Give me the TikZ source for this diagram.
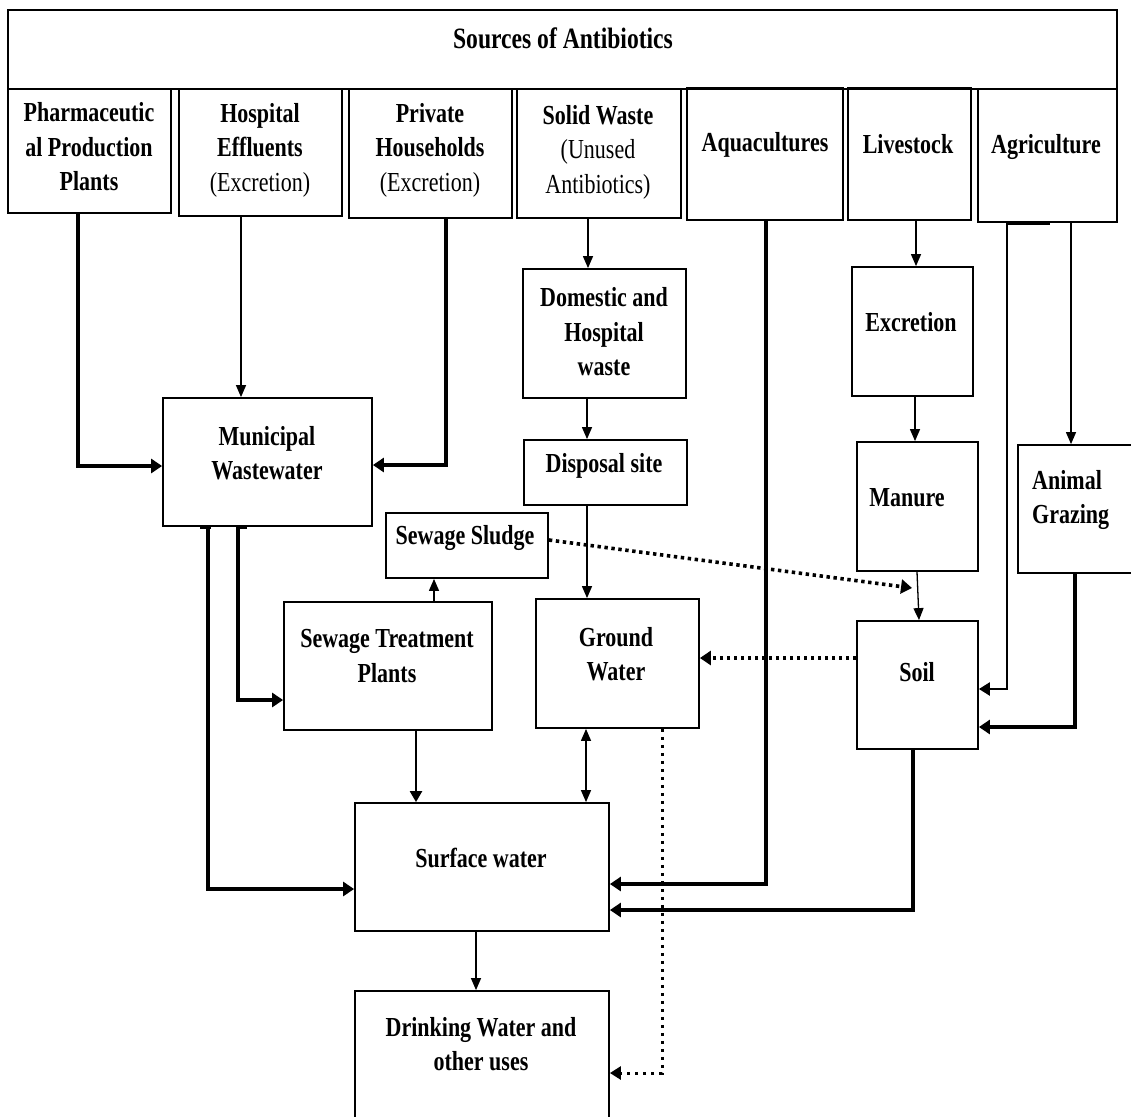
\documentclass[tikz,border=0pt]{standalone}
\usepackage{fontspec}
\setmainfont{Liberation Serif}[FakeStretch=0.80]
\usetikzlibrary{arrows.meta,fit}
\begin{document}
\begin{tikzpicture}[x=1pt,y=-1pt,
  box/.style={draw, line width=1.8pt, inner sep=0pt},
  lbl/.style={font=\fontsize{27.5}{34.5}\selectfont\bfseries, align=center, inner sep=0pt},
  thinarr/.style={line width=1.3pt, -{Triangle[length=12pt,width=10pt]}},
  thickarr/.style={line width=3.2pt, -{Triangle[length=11pt,width=14pt]}},
  midarr/.style={line width=2.3pt, -{Triangle[length=11pt,width=12pt]}},
  dotarr/.style={line width=3.6pt, dash pattern=on 3.4pt off 3.6pt, -{Triangle[length=11pt,width=14pt]}},
  dotarrb/.style={line width=3pt, dash pattern=on 3pt off 5pt, -{Triangle[length=11pt,width=13pt]}},
  stub/.style={line width=3.2pt}
]
\fill[white] (0,0) rectangle (1131,1116);
\useasboundingbox (0,0) rectangle (1131,1116);

% boxes
\node[box, fit={(8,10) (1117,89)}] (title) {};
\node[box, fit={(8,89) (171,213)}] (pharm) {};
\node[box, fit={(179,89) (342,216)}] (hosp) {};
\node[box, fit={(349,89) (512,218)}] (priv) {};
\node[box, fit={(517,89) (681,218)}] (solid) {};
\node[box, fit={(687,89) (843,220)}] (aqua) {};
\node[box, fit={(848,89) (971,220)}] (live) {};
\node[box, fit={(978,89) (1117,222)}] (agri) {};
\node[box, fit={(523,269) (686,398)}] (dom) {};
\node[box, fit={(524,440) (687,505)}] (disp) {};
\node[box, fit={(852,267) (973,396)}] (excr) {};
\node[box, fit={(857,442) (978,571)}] (man) {};
\node[box, fit={(1018,445) (1145,573)}] (graz) {};
\node[box, fit={(163,398) (372,526)}] (mun) {};
\node[box, fit={(386,513) (548,578)}] (sludge) {};
\node[box, fit={(284,602) (492,730)}] (stp) {};
\node[box, fit={(536,599) (699,728)}] (gw) {};
\node[box, fit={(857,621) (978,749)}] (soil) {};
\node[box, fit={(355,803) (609,931)}] (surf) {};
\node[box, fit={(355,991) (609,1135)}] (drink) {};

% thicker top edges
\draw[stub] (aqua.north west) -- (aqua.north east);
\draw[stub] (live.north west) -- (live.north east);

% labels
\node[lbl, font=\fontsize{29.5}{34.5}\selectfont\bfseries] (tTitle) at (563,38) {Sources of Antibiotics};
\node[lbl] (tPharm) at (89,147) {Pharmaceutic\\al Production\\Plants};
\node[lbl] (tHosp) at (260,150) {Hospital\\Effluents\\{\mdseries (Excretion)}};
\node[lbl] (tPriv) at (430,150) {Private\\Households\\{\mdseries (Excretion)}};
\node[lbl] (tSolid) at (598,152) {Solid Waste\\{\mdseries (Unused}\\{\mdseries Antibiotics)}};
\node[lbl] (tAqua) at (765,145) {Aquacultures};
\node[lbl] (tLive) at (908,144) {Livestock};
\node[lbl] (tAgri) at (1046,147) {Agriculture};
\node[lbl] (tDom) at (604,332) {Domestic and\\Hospital\\waste};
\node[lbl] (tDisp) at (604,466) {Disposal site};
\node[lbl] (tExcr) at (911,322) {Excretion};
\node[lbl] (tMan) at (907,498) {Manure};
\node[lbl, align=left, anchor=west] (tGraz) at (1032,500) {Animal\\Grazing};
\node[lbl] (tMun) at (267,453) {Municipal\\Wastewater};
\node[lbl] (tSludge) at (465,538) {Sewage Sludge};
\node[lbl] (tStp) at (387,656) {Sewage Treatment\\Plants};
\node[lbl] (tGw) at (616,654) {Ground\\Water};
\node[lbl] (tSoil) at (917,672) {Soil};
\node[lbl] (tSurf) at (481,858) {Surface water};
\node[lbl] (tDrink) at (481,1044) {Drinking Water and\\other uses};

\coordinate (slEnd) at (912,588);

% connectors
\draw[thickarr] (pharm.south -| 78,0) |- (mun.west |- 0,466);
\draw[thinarr] (hosp.south -| 241,0) -- (mun.north -| 241,0);
\draw[thickarr] (priv.south -| 446,0) |- (mun.east |- 0,465);
\draw[thinarr] (solid.south -| 588,0) -- (dom.north -| 588,0);
\draw[thinarr] (dom.south -| 587,0) -- (disp.north -| 587,0);
\draw[thinarr] (disp.south -| 587,0) -- (gw.north -| 587,0);
\draw[thickarr] (aqua.south -| 766,0) |- (surf.east |- 0,884);
\draw[thinarr] (live.south -| 916,0) -- (excr.north -| 916,0);
\draw[thinarr] (excr.south -| 915,0) -- (man.north -| 915,0);
\draw[thinarr] (man.south -| 917,0) -- (soil.north -| 919,0);
\draw[stub] (agri.south -| 1006,0) -- (agri.south -| 1050,0);
\draw[line width=2.5pt, -{Triangle[length=11pt,width=13pt]}] (agri.south -| 1007,0) |- (soil.east |- 0,689);
\draw[thinarr] (agri.south -| 1071,0) -- (graz.north -| 1071,0);
\draw[thickarr] (graz.south -| 1075,0) |- (soil.east |- 0,727);
\draw[thickarr] (soil.south -| 913,0) |- (surf.east |- 0,910);
\draw[stub] (mun.south -| 200,0) -- (mun.south -| 211,0);
\draw[thickarr] (mun.south -| 208,0) |- (surf.west |- 0,889);
\draw[stub] (mun.south -| 237,0) -- (mun.south -| 247,0);
\draw[thickarr] (mun.south -| 238,0) |- (stp.west |- 0,700);
\draw[thinarr] (stp.north -| 434,0) -- (sludge.south -| 434,0);
\draw[midarr] (stp.south -| 416,0) -- (surf.north -| 416,0);
\draw[line width=1.3pt, {Triangle[length=12pt,width=10pt]}-{Triangle[length=12pt,width=10pt]}] (gw.south -| 586,0) -- (surf.north -| 586,0);
\draw[dotarr] (sludge.east |- 0,540) -- (slEnd);
\draw[dotarr] (soil.west |- 0,658) -- (gw.east |- 0,658);
\draw[dotarrb] (gw.south -| 662,0) |- (drink.east |- 0,1073);
\draw[thinarr] (surf.south -| 476,0) -- (drink.north -| 476,0);
\end{tikzpicture}
\end{document}
